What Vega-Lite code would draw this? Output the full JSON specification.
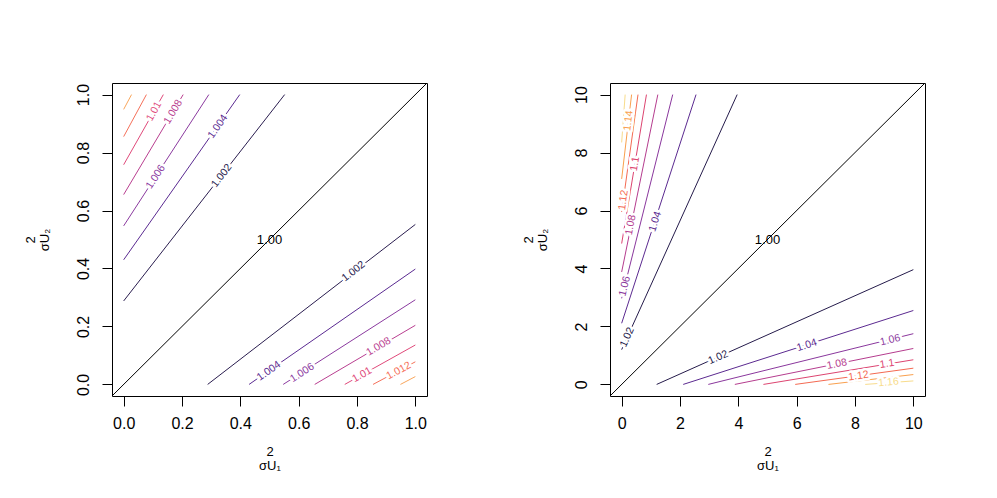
{
  "$schema": "https://vega.github.io/schema/vega-lite/v6.json",
  "background": "white",
  "padding": {"left": 23, "top": 82, "right": 5, "bottom": 5},
  "spacing": 93,
  "datasets": {
    "lines": [
      {"p":"L","lid":"a1","level":"1.002","x":0,"y":0.288},{"p":"L","lid":"a1","level":"1.002","x":0.552,"y":1},
      {"p":"L","lid":"a2","level":"1.004","x":0,"y":0.43},{"p":"L","lid":"a2","level":"1.004","x":0.398,"y":1},
      {"p":"L","lid":"a3","level":"1.006","x":0,"y":0.547},{"p":"L","lid":"a3","level":"1.006","x":0.292,"y":1},
      {"p":"L","lid":"a4","level":"1.008","x":0,"y":0.655},{"p":"L","lid":"a4","level":"1.008","x":0.204,"y":1},
      {"p":"L","lid":"a5","level":"1.01","x":0,"y":0.758},{"p":"L","lid":"a5","level":"1.01","x":0.136,"y":1},
      {"p":"L","lid":"a6","level":"1.012","x":0,"y":0.855},{"p":"L","lid":"a6","level":"1.012","x":0.078,"y":1},
      {"p":"L","lid":"a7","level":"1.014","x":0,"y":0.949},{"p":"L","lid":"a7","level":"1.014","x":0.027,"y":1},
      {"p":"L","lid":"b1","level":"1.002","x":0.288,"y":0},{"p":"L","lid":"b1","level":"1.002","x":1,"y":0.552},
      {"p":"L","lid":"b2","level":"1.004","x":0.43,"y":0},{"p":"L","lid":"b2","level":"1.004","x":1,"y":0.398},
      {"p":"L","lid":"b3","level":"1.006","x":0.547,"y":0},{"p":"L","lid":"b3","level":"1.006","x":1,"y":0.292},
      {"p":"L","lid":"b4","level":"1.008","x":0.655,"y":0},{"p":"L","lid":"b4","level":"1.008","x":1,"y":0.204},
      {"p":"L","lid":"b5","level":"1.01","x":0.758,"y":0},{"p":"L","lid":"b5","level":"1.01","x":1,"y":0.136},
      {"p":"L","lid":"b6","level":"1.012","x":0.855,"y":0},{"p":"L","lid":"b6","level":"1.012","x":1,"y":0.078},
      {"p":"L","lid":"b7","level":"1.014","x":0.949,"y":0},{"p":"L","lid":"b7","level":"1.014","x":1,"y":0.027},
      {"p":"L","lid":"d0","level":"1.00","x":-0.04,"y":-0.04},{"p":"L","lid":"d0","level":"1.00","x":1.04,"y":1.04},
      {"p":"R","lid":"c1","level":"1.02","x":0,"y":1.2},{"p":"R","lid":"c1","level":"1.02","x":3.96,"y":10},
      {"p":"R","lid":"c2","level":"1.04","x":0,"y":2.11},{"p":"R","lid":"c2","level":"1.04","x":2.55,"y":10},
      {"p":"R","lid":"c3","level":"1.06","x":0,"y":2.97},{"p":"R","lid":"c3","level":"1.06","x":1.75,"y":10},
      {"p":"R","lid":"c4","level":"1.08","x":0,"y":3.88},{"p":"R","lid":"c4","level":"1.08","x":1.24,"y":10},
      {"p":"R","lid":"c5","level":"1.1","x":0,"y":4.86},{"p":"R","lid":"c5","level":"1.1","x":0.85,"y":10},
      {"p":"R","lid":"c6","level":"1.12","x":0,"y":5.95},{"p":"R","lid":"c6","level":"1.12","x":0.56,"y":10},
      {"p":"R","lid":"c7","level":"1.14","x":0,"y":7.09},{"p":"R","lid":"c7","level":"1.14","x":0.34,"y":10},
      {"p":"R","lid":"c8","level":"1.16","x":0,"y":8.35},{"p":"R","lid":"c8","level":"1.16","x":0.12,"y":10},
      {"p":"R","lid":"e1","level":"1.02","x":1.2,"y":0},{"p":"R","lid":"e1","level":"1.02","x":10,"y":3.96},
      {"p":"R","lid":"e2","level":"1.04","x":2.11,"y":0},{"p":"R","lid":"e2","level":"1.04","x":10,"y":2.55},
      {"p":"R","lid":"e3","level":"1.06","x":2.97,"y":0},{"p":"R","lid":"e3","level":"1.06","x":10,"y":1.75},
      {"p":"R","lid":"e4","level":"1.08","x":3.88,"y":0},{"p":"R","lid":"e4","level":"1.08","x":10,"y":1.24},
      {"p":"R","lid":"e5","level":"1.1","x":4.86,"y":0},{"p":"R","lid":"e5","level":"1.1","x":10,"y":0.85},
      {"p":"R","lid":"e6","level":"1.12","x":5.95,"y":0},{"p":"R","lid":"e6","level":"1.12","x":10,"y":0.56},
      {"p":"R","lid":"e7","level":"1.14","x":7.09,"y":0},{"p":"R","lid":"e7","level":"1.14","x":10,"y":0.34},
      {"p":"R","lid":"e8","level":"1.16","x":8.35,"y":0},{"p":"R","lid":"e8","level":"1.16","x":10,"y":0.12},
      {"p":"R","lid":"f0","level":"1.00","x":-0.4,"y":-0.4},{"p":"R","lid":"f0","level":"1.00","x":10.4,"y":10.4}
    ],
    "labels": [
      {"p":"L","id":"L0","level":"1.00","x":0.5,"y":0.5},
      {"p":"L","id":"L1","level":"1.002","x":0.336,"y":0.72},
      {"p":"L","id":"L2","level":"1.004","x":0.323,"y":0.89},
      {"p":"L","id":"L3","level":"1.006","x":0.11,"y":0.716},
      {"p":"L","id":"L4","level":"1.008","x":0.17,"y":0.94},
      {"p":"L","id":"L5","level":"1.01","x":0.104,"y":0.942},
      {"p":"L","id":"L6","level":"1.002","x":0.788,"y":0.39},
      {"p":"L","id":"L7","level":"1.004","x":0.498,"y":0.046},
      {"p":"L","id":"L8","level":"1.006","x":0.612,"y":0.04},
      {"p":"L","id":"L9","level":"1.008","x":0.874,"y":0.13},
      {"p":"L","id":"L10","level":"1.01","x":0.817,"y":0.033},
      {"p":"L","id":"L11","level":"1.012","x":0.943,"y":0.047},
      {"p":"R","id":"R0","level":"1.00","x":5,"y":5},
      {"p":"R","id":"R1","level":"1.02","x":0.19,"y":1.63},
      {"p":"R","id":"R2","level":"1.04","x":1.15,"y":5.62},
      {"p":"R","id":"R3","level":"1.06","x":0.105,"y":3.39},
      {"p":"R","id":"R4","level":"1.08","x":0.31,"y":5.5},
      {"p":"R","id":"R5","level":"1.1","x":0.455,"y":7.61},
      {"p":"R","id":"R6","level":"1.12","x":0.057,"y":6.36},
      {"p":"R","id":"R7","level":"1.14","x":0.235,"y":9.1},
      {"p":"R","id":"R8","level":"1.02","x":3.31,"y":0.93},
      {"p":"R","id":"R9","level":"1.04","x":6.35,"y":1.35},
      {"p":"R","id":"R10","level":"1.06","x":9.21,"y":1.53},
      {"p":"R","id":"R11","level":"1.08","x":7.38,"y":0.7},
      {"p":"R","id":"R12","level":"1.1","x":9.1,"y":0.71},
      {"p":"R","id":"R13","level":"1.12","x":8.12,"y":0.29},
      {"p":"R","id":"R14","level":"1.16","x":9.15,"y":0.07}
    ]
  },
  "hconcat": [
    {
      "width": 315,
      "height": 313,
      "encoding": {
        "x": {"field":"x","type":"quantitative","scale":{"domain":[-0.04,1.04],"nice":false,"zero":false},
              "axis":{"values":[0,0.2,0.4,0.6,0.8,1],"format":".1f","title":["   2","σU₁"]}},
        "y": {"field":"y","type":"quantitative","scale":{"domain":[-0.04,1.04],"nice":false,"zero":false},
              "axis":{"values":[0,0.2,0.4,0.6,0.8,1],"format":".1f","title":["   2","σU₂"]}},
        "color": {"field":"level","type":"nominal","legend":null,
          "scale":{"domain":["1.00","1.002","1.004","1.006","1.008","1.01","1.012","1.014","1.02","1.04","1.06","1.08","1.1","1.12","1.14","1.16"],
                   "range":["#000000","#2a1d4f","#5a2a91","#8b3a9f","#b93e90","#e0497a","#f5705a","#f9a65c","#251b4b","#5b2a90","#8a379d","#b53c8e","#dd4470","#f46a52","#f9a04e","#f8dc8c"]}}
      },
      "layer": [
        {"data":{"name":"lines"},"transform":[{"filter":"datum.p==='L'"}],
         "mark":{"type":"line","strokeWidth":1,"clip":true},
         "encoding":{"detail":{"field":"lid","type":"nominal"}}},
        {"data":{"name":"labels"},"transform":[{"filter":"datum.p==='L' && datum.level!=='1.00'"}],
         "mark":{"type":"text","font":"Liberation Sans","fontSize":10.5,"stroke":"white","strokeWidth":5,"strokeJoin":"round"},
         "encoding":{"text":{"field":"level"},
           "angle":{"field":"id","type":"nominal","legend":null,"scale":{"type":"ordinal","domain":["L1","L2","L3","L4","L5","L6","L7","L8","L9","L10","L11"],"range":[-52,-55,-57,-59,-61,-38,-35,-33,-31,-29,-28]}}}},
        {"data":{"name":"labels"},"transform":[{"filter":"datum.p==='L' && datum.level!=='1.00'"}],
         "mark":{"type":"text","font":"Liberation Sans","fontSize":10.5},
         "encoding":{"text":{"field":"level"},
           "angle":{"field":"id","type":"nominal","legend":null,"scale":{"type":"ordinal","domain":["L1","L2","L3","L4","L5","L6","L7","L8","L9","L10","L11"],"range":[-52,-55,-57,-59,-61,-38,-35,-33,-31,-29,-28]}}}},
        {"data":{"name":"labels"},"transform":[{"filter":"datum.p==='L' && datum.level==='1.00'"}],
         "mark":{"type":"text","font":"Liberation Sans","fontSize":13},
         "encoding":{"text":{"field":"level"}}}
      ]
    },
    {
      "width": 315,
      "height": 313,
      "encoding": {
        "x": {"field":"x","type":"quantitative","scale":{"domain":[-0.4,10.4],"nice":false,"zero":false},
              "axis":{"values":[0,2,4,6,8,10],"format":"d","title":["   2","σU₁"]}},
        "y": {"field":"y","type":"quantitative","scale":{"domain":[-0.4,10.4],"nice":false,"zero":false},
              "axis":{"values":[0,2,4,6,8,10],"format":"d","title":["   2","σU₂"]}},
        "color": {"field":"level","type":"nominal","legend":null,
          "scale":{"domain":["1.00","1.002","1.004","1.006","1.008","1.01","1.012","1.014","1.02","1.04","1.06","1.08","1.1","1.12","1.14","1.16"],
                   "range":["#000000","#2a1d4f","#5a2a91","#8b3a9f","#b93e90","#e0497a","#f5705a","#f9a65c","#251b4b","#5b2a90","#8a379d","#b53c8e","#dd4470","#f46a52","#f9a04e","#f8dc8c"]}}
      },
      "layer": [
        {"data":{"name":"lines"},"transform":[{"filter":"datum.p==='R'"}],
         "mark":{"type":"line","strokeWidth":1,"clip":true},
         "encoding":{"detail":{"field":"lid","type":"nominal"}}},
        {"data":{"name":"labels"},"transform":[{"filter":"datum.p==='R' && datum.level!=='1.00'"}],
         "mark":{"type":"text","font":"Liberation Sans","fontSize":10.5,"stroke":"white","strokeWidth":5,"strokeJoin":"round"},
         "encoding":{"text":{"field":"level"},
           "angle":{"field":"id","type":"nominal","legend":null,"scale":{"type":"ordinal","domain":["R1","R2","R3","R4","R5","R6","R7","R8","R9","R10","R11","R12","R13","R14"],"range":[-66,-72,-76,-79,-81,-82,-83,-24,-18,-14,-11,-9,-8,-5]}}}},
        {"data":{"name":"labels"},"transform":[{"filter":"datum.p==='R' && datum.level!=='1.00'"}],
         "mark":{"type":"text","font":"Liberation Sans","fontSize":10.5},
         "encoding":{"text":{"field":"level"},
           "angle":{"field":"id","type":"nominal","legend":null,"scale":{"type":"ordinal","domain":["R1","R2","R3","R4","R5","R6","R7","R8","R9","R10","R11","R12","R13","R14"],"range":[-66,-72,-76,-79,-81,-82,-83,-24,-18,-14,-11,-9,-8,-5]}}}},
        {"data":{"name":"labels"},"transform":[{"filter":"datum.p==='R' && datum.level==='1.00'"}],
         "mark":{"type":"text","font":"Liberation Sans","fontSize":13},
         "encoding":{"text":{"field":"level"}}}
      ]
    }
  ],
  "resolve": {"scale": {"angle": "independent"}},
  "config": {
    "view": {"stroke": "black", "strokeWidth": 1},
    "axis": {"domain": false, "grid": false, "ticks": true, "tickColor": "black", "tickSize": 10, "tickWidth": 1,
             "labelFont": "Liberation Sans", "labelFontSize": 16, "labelColor": "black", "labelFlush": false, "labelOverlap": false,
             "titleFont": "Liberation Sans", "titleFontSize": 13, "titleFontWeight": "normal", "titleColor": "black", "titleLineHeight": 14},
    "axisX": {"labelPadding": 9, "titlePadding": 14},
    "axisY": {"labelAngle": -90, "labelAlign": "center", "labelBaseline": "alphabetic", "labelPadding": 14, "titlePadding": 24}
  }
}
